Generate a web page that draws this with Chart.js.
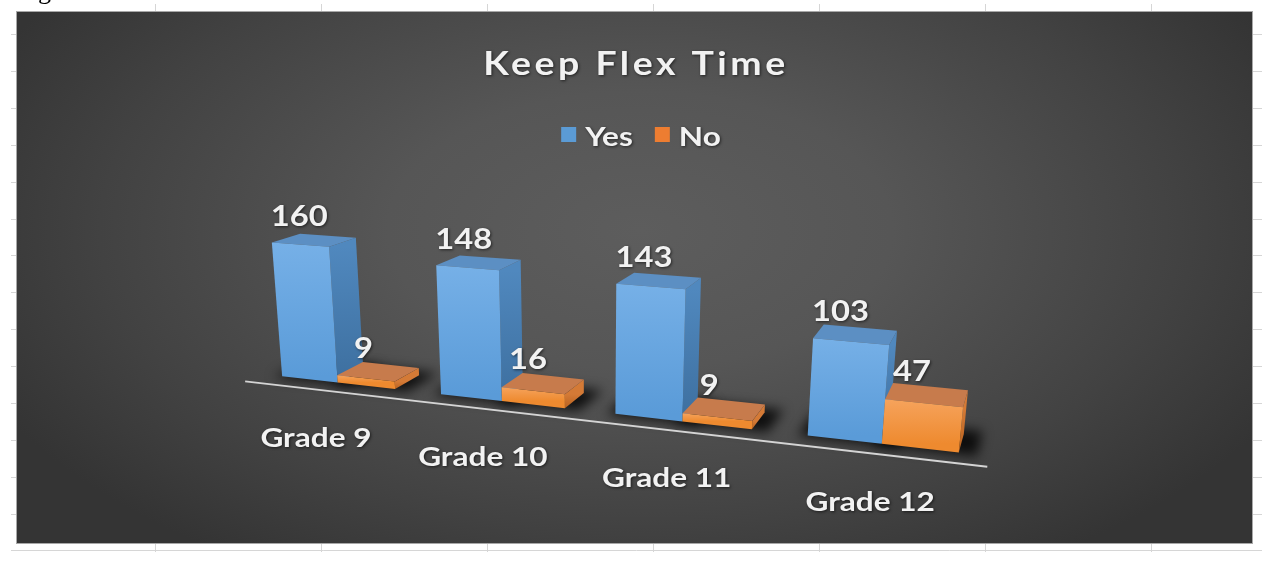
<!DOCTYPE html>
<html>
<head>
<meta charset="utf-8">
<script src="https://cdn.jsdelivr.net/npm/chart.js@4.4.1/dist/chart.umd.min.js"></script>
<style>
  html, body { margin: 0; padding: 0; background: #fff; }
  #wrap { width: 1271px; height: 584px; position: relative; }
</style>
</head>
<body>
<div id="wrap"><canvas id="flexChart"></canvas></div>
<script>
// Chart data
const chartTitle = 'Keep Flex Time';
const grades = ['Grade 9', 'Grade 10', 'Grade 11', 'Grade 12'];
const seriesNames = ['Yes', 'No'];
const yesVotes = [160, 148, 143, 103];
const noVotes = [9, 16, 9, 47];
const yMax = 200;

// Shading per series (front gradient, top, side gradient)
const faceColors = [
    { base: '#5B9BD5', frontTop: '#76b0e7', frontBottom: '#5a9bd8', top: '#5c8fc3', sideTop: '#5088be', sideBottom: '#3d6f9f' },
    { base: '#ED7D31', frontTop: '#f6a35c', frontBottom: '#ee8a2f', top: '#c77b4c', sideTop: '#d47a36', sideBottom: '#b8621f' }
];

// Fake 3D camera (Excel style rotated columns)
const cam = { yaw: 20 * Math.PI / 180, pitch: 18 * Math.PI / 180, dist: 1290, depth: 55, floorGap: 30 };
const TEXT_STRETCH = 1.17;
const FONT = 'Lato, "Liberation Sans", sans-serif';

// px = flat chart x, h = height in px above the base, z = depth
function project(chart, px, h, z) {
    const area = chart.chartArea;
    const cx = (area.left + area.right) / 2;
    const cy = area.bottom;
    const X = px - cx;
    const ca = Math.cos(cam.yaw), sa = Math.sin(cam.yaw);
    const cb = Math.cos(cam.pitch), sb = Math.sin(cam.pitch);
    const xr = X * ca + z * sa;
    const dr = -X * sa + z * ca;
    const up = h * cb + dr * sb;
    const dd = dr * cb - h * sb;
    const k = cam.dist / (cam.dist + dd);
    return { x: cx + xr * k, y: cy - up * k };
}

function poly(ctx, pts) {
    ctx.beginPath();
    ctx.moveTo(pts[0].x, pts[0].y);
    for (let i = 1; i < pts.length; i++) ctx.lineTo(pts[i].x, pts[i].y);
    ctx.closePath();
}

function wideText(ctx, str, x, y) {
    ctx.save();
    ctx.translate(x, y);
    ctx.scale(TEXT_STRETCH, 1);
    ctx.fillText(str, 0, 0);
    ctx.restore();
}

function textShadow(ctx) {
    ctx.shadowColor = 'rgba(0,0,0,0.6)';
    ctx.shadowBlur = 3;
    ctx.shadowOffsetX = 1;
    ctx.shadowOffsetY = 1;
}

function drawBox(ctx, chart, x0, x1, h, c) {
    const d = cam.depth;
    const P = (x, y, z) => project(chart, x, y, z);
    const front = [P(x0, 0, 0), P(x1, 0, 0), P(x1, h, 0), P(x0, h, 0)];
    const top = [P(x0, h, 0), P(x1, h, 0), P(x1, h, d), P(x0, h, d)];
    const side = [P(x1, 0, 0), P(x1, 0, d), P(x1, h, d), P(x1, h, 0)];

    let g = ctx.createLinearGradient(0, side[3].y, 0, side[0].y);
    g.addColorStop(0, c.sideTop);
    g.addColorStop(1, c.sideBottom);
    poly(ctx, side);
    ctx.fillStyle = g;
    ctx.fill();

    poly(ctx, top);
    ctx.fillStyle = c.top;
    ctx.fill();

    g = ctx.createLinearGradient(0, front[3].y, 0, front[0].y);
    g.addColorStop(0, c.frontTop);
    g.addColorStop(1, c.frontBottom);
    poly(ctx, front);
    ctx.fillStyle = g;
    ctx.fill();
}

// Page + dark panel behind the chart
const backdrop = {
    id: 'backdrop',
    beforeDraw(chart) {
        const ctx = chart.ctx;
        const W = chart.width, H = chart.height;
        const panel = { x: 17, y: 12, w: 1235, h: 531 };
        ctx.save();
        ctx.fillStyle = '#ffffff';
        ctx.fillRect(0, 0, W, H);

        // spreadsheet grid stubs around the pasted chart
        ctx.strokeStyle = '#d6d6d6';
        ctx.lineWidth = 1;
        ctx.beginPath();
        for (let x = 155; x < 1200; x += 166) {
            ctx.moveTo(x + 0.5, 4); ctx.lineTo(x + 0.5, panel.y);
            ctx.moveTo(x + 0.5, panel.y + panel.h); ctx.lineTo(x + 0.5, 552);
        }
        for (let y = 34; y < 530; y += 36.9) {
            ctx.moveTo(11, Math.round(y) + 0.5); ctx.lineTo(panel.x, Math.round(y) + 0.5);
            ctx.moveTo(panel.x + panel.w, Math.round(y) + 0.5); ctx.lineTo(1262, Math.round(y) + 0.5);
        }
        ctx.moveTo(11, 550.5); ctx.lineTo(1262, 550.5);
        ctx.stroke();

        // clipped word from the line above
        ctx.fillStyle = '#000';
        ctx.font = '26px "Liberation Serif", serif';
        ctx.fillText('g', 38, -1);

        // panel with soft radial light
        ctx.save();
        ctx.beginPath();
        ctx.rect(panel.x, panel.y, panel.w, panel.h);
        ctx.clip();
        ctx.translate(640, 230);
        ctx.scale(1, 0.55);
        const g = ctx.createRadialGradient(0, 0, 0, 0, 0, 720);
        g.addColorStop(0, '#5d5d5d');
        g.addColorStop(0.35, '#565656');
        g.addColorStop(0.75, '#424242');
        g.addColorStop(1, '#343434');
        ctx.fillStyle = g;
        ctx.fillRect(-900, -900, 1800, 1800);
        ctx.restore();

        ctx.strokeStyle = '#a8a8a8';
        ctx.strokeRect(panel.x - 0.5, panel.y - 0.5, panel.w + 1, panel.h + 1);
        ctx.restore();
    }
};

// 3D columns, floor line and value labels
const columns3d = {
    id: 'columns3d',
    beforeDatasetsDraw(chart) {
        const ctx = chart.ctx;
        const area = chart.chartArea;
        const metas = chart.data.datasets.map((ds, i) => chart.getDatasetMeta(i));
        ctx.save();

        // soft shadows on the floor
        ctx.filter = 'blur(6px)';
        ctx.fillStyle = 'rgba(0,0,0,0.8)';
        metas.forEach(meta => meta.data.forEach(el => {
            const x0 = el.x - el.width / 2, x1 = el.x + el.width / 2;
            poly(ctx, [
                project(chart, x0 - 8, 0, -4), project(chart, x1 + 16, 0, -4),
                project(chart, x1 + 16, 0, cam.depth + 14), project(chart, x0 - 8, 0, cam.depth + 14)
            ]);
            ctx.fill();
        }));
        ctx.filter = 'none';

        // floor front edge
        const a = project(chart, area.left, 0, -cam.floorGap);
        const b = project(chart, area.right, 0, -cam.floorGap);
        ctx.strokeStyle = '#d4d4d4';
        ctx.lineWidth = 2;
        ctx.beginPath();
        ctx.moveTo(a.x, a.y);
        ctx.lineTo(b.x, b.y);
        ctx.stroke();

        // columns, far (left) to near (right)
        grades.forEach((g, i) => {
            metas.forEach((meta, s) => {
                const el = meta.data[i];
                drawBox(ctx, chart, el.x - el.width / 2, el.x + el.width / 2, el.base - el.y, faceColors[s]);
            });
        });

        // value labels
        ctx.font = 'bold 28px ' + FONT;
        ctx.textAlign = 'center';
        ctx.textBaseline = 'alphabetic';
        ctx.fillStyle = '#f2f2f2';
        textShadow(ctx);
        metas.forEach((meta, s) => meta.data.forEach((el, i) => {
            const p = project(chart, el.x, el.base - el.y, cam.depth / 2);
            wideText(ctx, String(chart.data.datasets[s].data[i]), p.x - 15, p.y - 14);
        }));
        ctx.restore();
        return false;
    },
    afterDraw(chart) {
        const ctx = chart.ctx;
        const xScale = chart.scales.x;
        ctx.save();
        ctx.fillStyle = '#f2f2f2';
        textShadow(ctx);

        // title
        ctx.font = 'bold 32px ' + FONT;
        ctx.textAlign = 'center';
        ctx.textBaseline = 'alphabetic';
        ctx.letterSpacing = '3px';
        wideText(ctx, chartTitle, 636, 75);
        ctx.letterSpacing = '0px';

        // legend
        ctx.font = 'bold 27px ' + FONT;
        const box = 15, gap = 9, itemGap = 22;
        const widths = chart.data.datasets.map(ds => box + gap + ctx.measureText(ds.label).width * TEXT_STRETCH);
        const total = widths.reduce((s, w) => s + w, 0) + itemGap * (widths.length - 1);
        let lx = 641 - total / 2;
        ctx.textAlign = 'left';
        chart.data.datasets.forEach((ds, i) => {
            ctx.save();
            ctx.shadowColor = 'transparent';
            ctx.fillStyle = ds.backgroundColor;
            ctx.fillRect(lx, 127, box, box);
            ctx.restore();
            wideText(ctx, ds.label, lx + box + gap, 146);
            lx += widths[i] + itemGap;
        });

        // category labels sit in front of the floor edge
        ctx.font = 'bold 27px ' + FONT;
        ctx.textAlign = 'center';
        ctx.textBaseline = 'middle';
        chart.data.labels.forEach((label, i) => {
            const p = project(chart, xScale.getPixelForValue(i), 0, -cam.floorGap);
            wideText(ctx, label, p.x - 7, p.y + 48);
        });
        ctx.restore();
    }
};

const ctxFlex = document.getElementById('flexChart').getContext('2d');
const flexChart = new Chart(ctxFlex, {
    type: 'bar',
    data: {
        labels: grades,
        datasets: [
            { label: seriesNames[0], data: yesVotes, backgroundColor: faceColors[0].base },
            { label: seriesNames[1], data: noVotes, backgroundColor: faceColors[1].base }
        ]
    },
    options: {
        responsive: true,
        maintainAspectRatio: false,
        animation: false,
        events: [],
        datasets: { bar: { categoryPercentage: 0.72, barPercentage: 1 } },
        layout: { padding: { left: 206, right: 297, top: 227, bottom: 173 } },
        plugins: {
            legend: { display: false },
            title: { display: false },
            tooltip: { enabled: false }
        },
        scales: {
            x: { display: false },
            y: { display: false, min: 0, max: yMax }
        }
    },
    plugins: [backdrop, columns3d]
});
</script>
</body>
</html>
